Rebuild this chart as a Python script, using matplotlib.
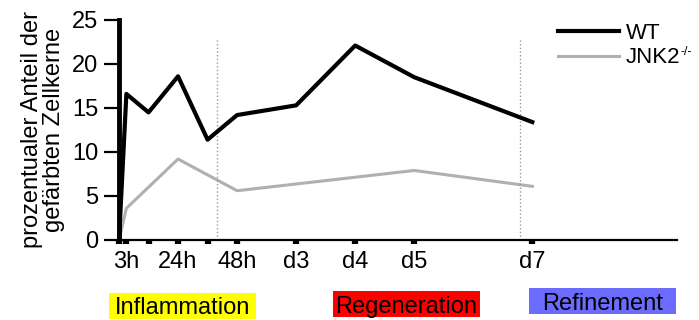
import numpy as np
import matplotlib.pyplot as plt
from matplotlib.patches import Rectangle

plt.rcParams['font.family'] = ['Liberation Sans', 'DejaVu Sans']

# Zeitpunkte in Stunden
wt_t = [0, 3, 12, 24, 36, 48, 72, 96, 120, 168]
wt_val = [0, 16.6, 14.5, 18.6, 11.4, 14.2, 15.3, 22.1, 18.5, 13.4]
ko_t = [0, 3, 24, 48, 120, 168]
ko_val = [0, 3.6, 9.2, 5.6, 7.9, 6.1]

tick_pos = [0, 3, 12, 24, 36, 48, 72, 96, 120, 168]
tick_lab = ["", "3h", "", "24h", "", "48h", "d3", "d4", "d5", "d7"]
phase_lines = [40, 163]
phases = ["Inflammation", "Regeneration", "Refinement"]
phase_colors = ["#ffff00", "#ff0000", "#6b6bff"]

W, H = 699, 320
fig = plt.figure(figsize=(6.99, 3.2), dpi=100)
ax = fig.add_axes([119 / W, 1 - 240 / H, (677 - 119) / W, 220 / H])

ax.plot(wt_t, wt_val, color="black", lw=3, label="WT", clip_on=False, zorder=3)
ax.plot(ko_t, ko_val, color="#b0b0b0", lw=2.2, label="JNK2", clip_on=False, zorder=2)
ax.vlines(phase_lines, 0, 23, colors="#999999", linestyles=":", lw=1)

ax.set_xlim(0, 226.8)
ax.set_ylim(0, 25)
ax.set_yticks([0, 5, 10, 15, 20, 25])
ax.set_xticks(tick_pos)
ax.set_xticklabels(tick_lab)

for s in ["top", "right"]:
    ax.spines[s].set_visible(False)
ax.spines["left"].set_linewidth(3.5)
ax.spines["bottom"].set_linewidth(1.6)
ax.tick_params(axis="y", length=11, width=1.6, labelsize=17, pad=4)
ax.tick_params(axis="x", length=3, width=4.5, labelsize=17, pad=5)

ax.set_ylabel("prozentualer Anteil der\ngefärbten Zellkerne", fontsize=17, labelpad=5,
              linespacing=1.0)

leg = ax.legend(loc="upper left", bbox_to_anchor=(547 / W, 1 - 12 / H),
                bbox_transform=fig.transFigure, frameon=False, fontsize=16,
                handlelength=2.75, handletextpad=0.3, labelspacing=0.15, borderpad=0)

# hochgestelltes -/- hinter JNK2
fig.canvas.draw()
bb = leg.get_texts()[1].get_window_extent()
fig.text(bb.x1 / W + 0.5 / W, bb.y1 / H + 1 / H, "-/-", fontsize=9, ha="left", va="top")

# Phasen-Kästen unter der Achse
box_x = [109, 333, 529]
box_y = [293, 291, 288]
for x0, y0, name, c in zip(box_x, box_y, phases, phase_colors):
    fig.patches.append(Rectangle((x0 / W, 1 - (y0 + 26) / H), 147 / W, 26 / H,
                                 transform=fig.transFigure, facecolor=c,
                                 edgecolor="none"))
    fig.text((x0 + 73.5) / W, 1 - (y0 + 13) / H, name, fontsize=17,
             ha="center", va="center_baseline")

fig.savefig("out.png", dpi=100)
